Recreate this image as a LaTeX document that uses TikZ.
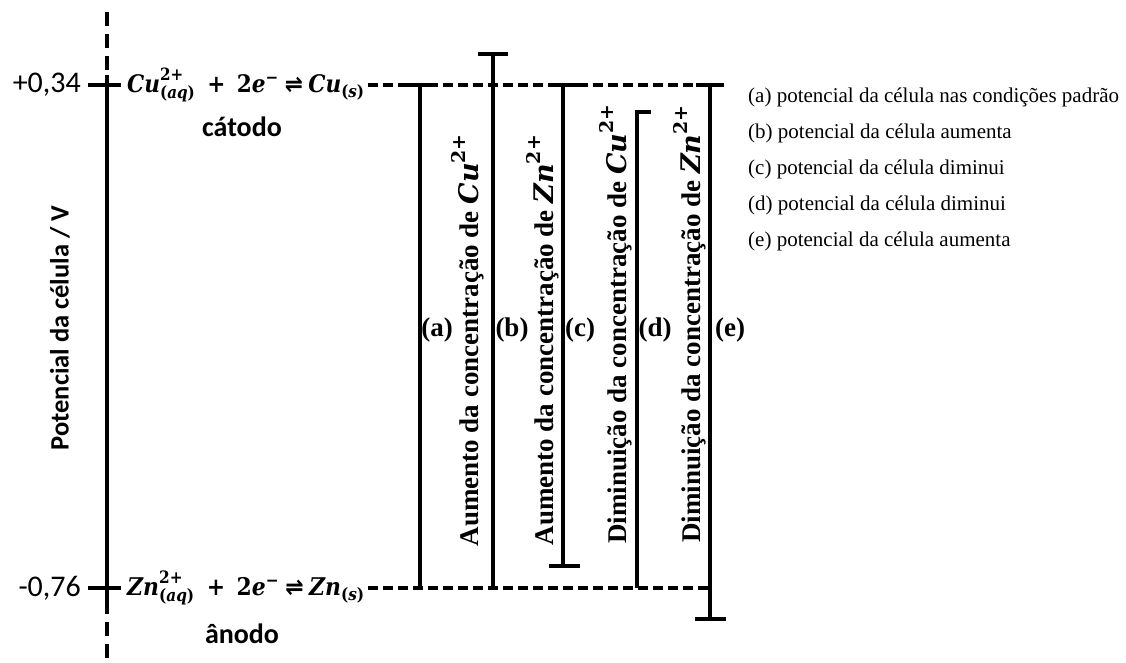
\documentclass[tikz,border=0pt]{standalone}
\usepackage{amsmath,amssymb}
\usepackage{fontspec}
\setmainfont{Liberation Serif}
\newfontfamily\calib{Carlito}
\newfontfamily\dvs{DejaVu Serif}
\newfontfamily\dvsans{DejaVu Sans}
\newcommand\ebi[1]{\text{\dvs\bfseries\itshape #1}}
\newcommand\ebu[1]{\text{\dvs\bfseries #1}}
\newcommand\eqarr{\text{\dvsans\bfseries ⇌}}
\begin{document}
\begin{tikzpicture}[x=1pt,y=-1pt,
  bar/.style={line width=3.5pt},
  lvl/.style={line width=3.5pt,dash pattern=on 10pt off 5pt},
  axdash/.style={line width=4pt,dash pattern=on 14pt off 8pt},
  vtext/.style={rotate=90,inner sep=0pt,font=\fontsize{27}{30}\selectfont\bfseries},
  lab/.style={inner sep=0pt,font=\fontsize{27}{30}\selectfont\bfseries},
  leg/.style={anchor=west,inner sep=0pt,font=\fontsize{21}{24}\selectfont},
  num/.style={anchor=east,inner sep=0pt,font=\calib\fontsize{30}{34}\selectfont},
  elec/.style={inner sep=0pt,font=\calib\fontsize{28}{30}\selectfont\bfseries}]
\useasboundingbox (0,0) rectangle (1126,662);
% axis
\coordinate (ax0) at (107,12);
\coordinate (ax1) at (107,75);
\coordinate (ax2) at (107,600);
\coordinate (ax3) at (107,662);
\draw[axdash] (ax0) -- (ax1);
\draw[line width=4pt] (ax1) -- (ax2);
\draw[axdash] (ax2) -- (ax3);
\coordinate (t1a) at (88,85); \coordinate (t1b) at (121,85);
\coordinate (t2a) at (88,588); \coordinate (t2b) at (121,588);
\draw[line width=4pt] (t1a) -- (t1b);
\draw[line width=4pt] (t2a) -- (t2b);
\node[num] (v1) at (81,85) {+0,34};
\node[num] (v2) at (81,588) {-0,76};
\node[rotate=90,inner sep=0pt,font=\calib\fontsize{26.5}{30}\selectfont\bfseries] (ylab) at (60,328) {Potencial da célula / V};
% equations
\node[anchor=west,inner sep=0pt] (cu) at (127,85) {\resizebox*{238pt}{34pt}{$\ebi{Cu}^{\ebu{2+}}_{\ebu{(}\ebi{aq}\ebu{)}}\;\ \ebu{+}\ \;\ebu{2}\ebi{e}^{\ebu{−}}\ \eqarr\ \ebi{Cu}_{\ebu{(}\ebi{s}\ebu{)}}$}};
\node[anchor=west,inner sep=0pt] (zn) at (127,588) {\resizebox*{238pt}{34pt}{$\ebi{Zn}^{\ebu{2+}}_{\ebu{(}\ebi{aq}\ebu{)}}\;\ \ebu{+}\ \;\ebu{2}\ebi{e}^{\ebu{−}}\ \eqarr\ \ebi{Zn}_{\ebu{(}\ebi{s}\ebu{)}}$}};
\node[elec] (cat) at (242,127) {cátodo};
\node[elec] (ano) at (242,634) {ânodo};
% levels
\coordinate (L1) at (724,85);
\coordinate (L2) at (710,588);
\coordinate (s1) at (368,85);
\coordinate (s2) at (368,588);
\draw[lvl] (s1) -- (L1);
\draw[lvl] (s2) -- (L2);
% bars
\coordinate (at) at (420,85); \coordinate (ab) at (420,588);
\coordinate (bt) at (493,54); \coordinate (bb) at (493,588);
\coordinate (ct) at (563,85); \coordinate (cb) at (563,566);
\coordinate (dt) at (637,112); \coordinate (db) at (637,588);
\coordinate (et) at (710,85); \coordinate (eb) at (710,619);
\draw[bar] (at) -- (ab);
\draw[bar] (bt) -- (bb);
\draw[bar] (ct) -- (cb);
\draw[bar] (dt) -- (db);
\draw[bar] (et) -- (eb);
\draw[bar] (407,85) -- (433,85);
\draw[bar] (478,54) -- (508,54);
\draw[bar] (549,85) -- (578,85);
\draw[bar] (549,566) -- (580,566);
\draw[bar] (635.25,112) -- (651,112);
\draw[bar] (696,85) -- (724,85);
\draw[bar] (695,619) -- (726,619);
% labels
\node[lab] (la) at (437,330) {(a)};
\node[lab] (lb) at (512,330) {(b)};
\node[lab] (lc) at (580,330) {(c)};
\node[lab] (ld) at (655,330) {(d)};
\node[lab] (le) at (730,330) {(e)};
\node[vtext] (ta) at (468,340) {Aumento da concentração de $\ebi{Cu}^{\ebu{2+}}$};
\node[vtext] (tb) at (543,340) {Aumento da concentração de $\ebi{Zn}^{\ebu{2+}}$};
\node[vtext] (tc) at (616,324) {Diminuição da concentração de $\ebi{Cu}^{\ebu{2+}}$};
\node[vtext] (td) at (690,324) {Diminuição da concentração de $\ebi{Zn}^{\ebu{2+}}$};
% legend
\node[leg] (ga) at (748,97) {(a) potencial da célula nas condições padrão};
\node[leg] (gb) at (748,133) {(b) potencial da célula aumenta};
\node[leg] (gc) at (748,169) {(c) potencial da célula diminui};
\node[leg] (gd) at (748,205) {(d) potencial da célula diminui};
\node[leg] (ge) at (748,241) {(e) potencial da célula aumenta};
\end{tikzpicture}
\end{document}
